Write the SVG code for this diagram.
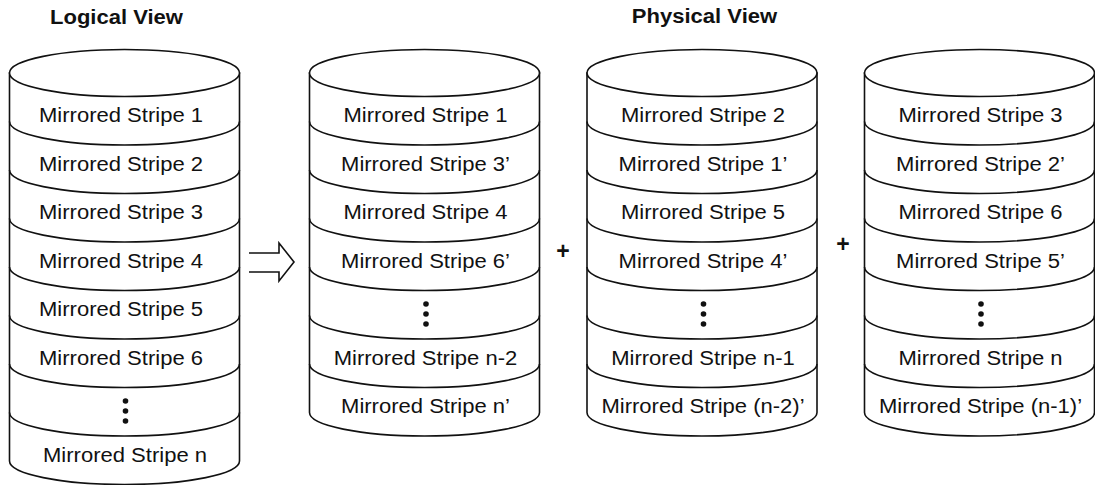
<svg xmlns="http://www.w3.org/2000/svg" width="1095" height="485" viewBox="0 0 1095 485">
<style>
.cyl{fill:#fff;stroke:#111;stroke-width:1.6}
.sep{fill:none;stroke:#111;stroke-width:1.6}
.t{font-family:"Liberation Sans",Arial,sans-serif;font-size:19.5px;fill:#111;text-anchor:middle}
.h{font-family:"Liberation Sans",Arial,sans-serif;font-size:19.5px;font-weight:bold;fill:#111;text-anchor:middle}
.p{font-family:"Liberation Sans",Arial,sans-serif;font-size:23px;font-weight:bold;fill:#111;text-anchor:middle}
.dot{fill:#111}
.arr{fill:#fff;stroke:#111;stroke-width:1.6;stroke-linejoin:miter}
</style>
<rect width="1095" height="485" fill="#fff"/>
<g id="titles">
<text class="h" transform="translate(116.5,24) scale(1.13,1)">Logical View</text>
<text class="h" transform="translate(704.5,23) scale(1.13,1)">Physical View</text>
</g>
<g id="logical">
<path class="cyl" d="M9.5,73 V461 A115 23.5 0 0 0 239.5,461 V73 Z"/>
<ellipse class="cyl" cx="124.5" cy="73" rx="115" ry="23.5"/>
<path class="sep" d="M9.5,121.5 A115 23.5 0 0 0 239.5,121.5 M9.5,170 A115 23.5 0 0 0 239.5,170 M9.5,218.5 A115 23.5 0 0 0 239.5,218.5 M9.5,267 A115 23.5 0 0 0 239.5,267 M9.5,315.5 A115 23.5 0 0 0 239.5,315.5 M9.5,364 A115 23.5 0 0 0 239.5,364 M9.5,412.5 A115 23.5 0 0 0 239.5,412.5"/>
<text class="t" transform="translate(121,122) scale(1.13,1)">Mirrored Stripe 1</text>
<text class="t" transform="translate(121,170.5) scale(1.13,1)">Mirrored Stripe 2</text>
<text class="t" transform="translate(121,219) scale(1.13,1)">Mirrored Stripe 3</text>
<text class="t" transform="translate(121,267.5) scale(1.13,1)">Mirrored Stripe 4</text>
<text class="t" transform="translate(121,316) scale(1.13,1)">Mirrored Stripe 5</text>
<text class="t" transform="translate(121,364.5) scale(1.13,1)">Mirrored Stripe 6</text>
<circle class="dot" cx="125.5" cy="401" r="2.8"/>
<circle class="dot" cx="125.5" cy="411" r="2.8"/>
<circle class="dot" cx="125.5" cy="421" r="2.8"/>
<text class="t" transform="translate(125,461.5) scale(1.13,1)">Mirrored Stripe n</text>
</g>
<g id="disk1">
<path class="cyl" d="M309.5,73 V412.5 A115 23.5 0 0 0 539.5,412.5 V73 Z"/>
<ellipse class="cyl" cx="424.5" cy="73" rx="115" ry="23.5"/>
<path class="sep" d="M309.5,121.5 A115 23.5 0 0 0 539.5,121.5 M309.5,170 A115 23.5 0 0 0 539.5,170 M309.5,218.5 A115 23.5 0 0 0 539.5,218.5 M309.5,267 A115 23.5 0 0 0 539.5,267 M309.5,315.5 A115 23.5 0 0 0 539.5,315.5 M309.5,364 A115 23.5 0 0 0 539.5,364"/>
<text class="t" transform="translate(425.5,122) scale(1.13,1)">Mirrored Stripe 1</text>
<text class="t" transform="translate(425.5,170.5) scale(1.13,1)">Mirrored Stripe 3’</text>
<text class="t" transform="translate(425.5,219) scale(1.13,1)">Mirrored Stripe 4</text>
<text class="t" transform="translate(425.5,267.5) scale(1.13,1)">Mirrored Stripe 6’</text>
<circle class="dot" cx="426" cy="304" r="2.8"/>
<circle class="dot" cx="426" cy="314" r="2.8"/>
<circle class="dot" cx="426" cy="324" r="2.8"/>
<text class="t" transform="translate(425.5,364.5) scale(1.13,1)">Mirrored Stripe n-2</text>
<text class="t" transform="translate(425.5,413) scale(1.13,1)">Mirrored Stripe n’</text>
</g>
<g id="disk2">
<path class="cyl" d="M587,73 V412.5 A115 23.5 0 0 0 817,412.5 V73 Z"/>
<ellipse class="cyl" cx="702" cy="73" rx="115" ry="23.5"/>
<path class="sep" d="M587,121.5 A115 23.5 0 0 0 817,121.5 M587,170 A115 23.5 0 0 0 817,170 M587,218.5 A115 23.5 0 0 0 817,218.5 M587,267 A115 23.5 0 0 0 817,267 M587,315.5 A115 23.5 0 0 0 817,315.5 M587,364 A115 23.5 0 0 0 817,364"/>
<text class="t" transform="translate(703,122) scale(1.13,1)">Mirrored Stripe 2</text>
<text class="t" transform="translate(703,170.5) scale(1.13,1)">Mirrored Stripe 1’</text>
<text class="t" transform="translate(703,219) scale(1.13,1)">Mirrored Stripe 5</text>
<text class="t" transform="translate(703,267.5) scale(1.13,1)">Mirrored Stripe 4’</text>
<circle class="dot" cx="703.5" cy="304" r="2.8"/>
<circle class="dot" cx="703.5" cy="314" r="2.8"/>
<circle class="dot" cx="703.5" cy="324" r="2.8"/>
<text class="t" transform="translate(703,364.5) scale(1.13,1)">Mirrored Stripe n-1</text>
<text class="t" transform="translate(703,413) scale(1.13,1)">Mirrored Stripe (n-2)’</text>
</g>
<g id="disk3">
<path class="cyl" d="M864.5,73 V412.5 A115 23.5 0 0 0 1094.5,412.5 V73 Z"/>
<ellipse class="cyl" cx="979.5" cy="73" rx="115" ry="23.5"/>
<path class="sep" d="M864.5,121.5 A115 23.5 0 0 0 1094.5,121.5 M864.5,170 A115 23.5 0 0 0 1094.5,170 M864.5,218.5 A115 23.5 0 0 0 1094.5,218.5 M864.5,267 A115 23.5 0 0 0 1094.5,267 M864.5,315.5 A115 23.5 0 0 0 1094.5,315.5 M864.5,364 A115 23.5 0 0 0 1094.5,364"/>
<text class="t" transform="translate(980.5,122) scale(1.13,1)">Mirrored Stripe 3</text>
<text class="t" transform="translate(980.5,170.5) scale(1.13,1)">Mirrored Stripe 2’</text>
<text class="t" transform="translate(980.5,219) scale(1.13,1)">Mirrored Stripe 6</text>
<text class="t" transform="translate(980.5,267.5) scale(1.13,1)">Mirrored Stripe 5’</text>
<circle class="dot" cx="981" cy="304" r="2.8"/>
<circle class="dot" cx="981" cy="314" r="2.8"/>
<circle class="dot" cx="981" cy="324" r="2.8"/>
<text class="t" transform="translate(980.5,364.5) scale(1.13,1)">Mirrored Stripe n</text>
<text class="t" transform="translate(980.5,413) scale(1.13,1)">Mirrored Stripe (n-1)’</text>
</g>
<g id="connectors">
<path class="arr" d="M249,253 H279 V243 L294,262 L279,281 V272 H249"/>
<text class="p" x="563" y="259">+</text>
<text class="p" x="843" y="252">+</text>
</g>
</svg>
